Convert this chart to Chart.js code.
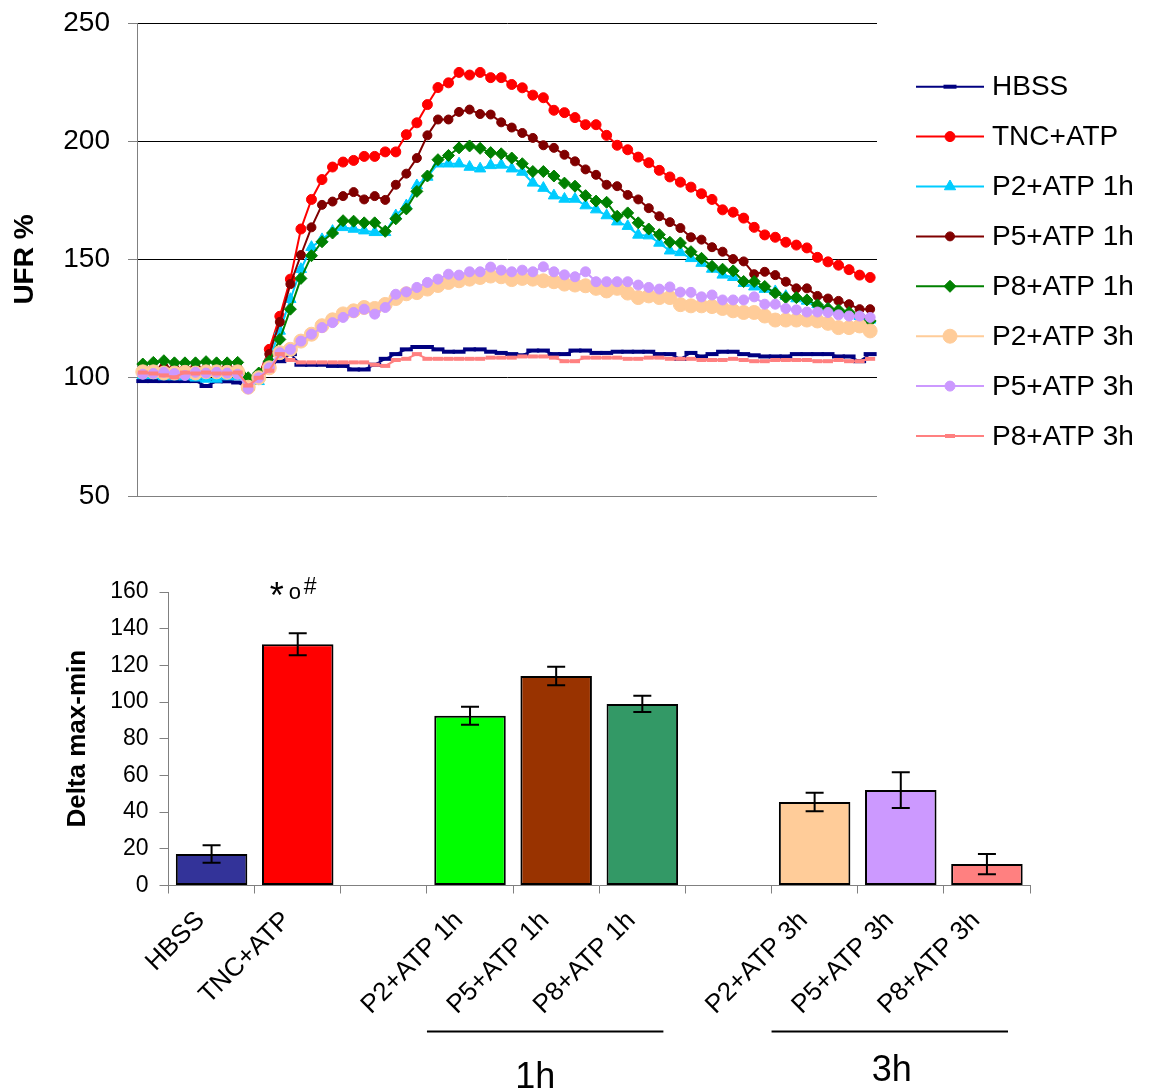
<!DOCTYPE html>
<html>
<head>
<meta charset="utf-8">
<script src="https://cdn.jsdelivr.net/npm/chart.js@4.4.0/dist/chart.umd.min.js"></script>
<style>
  html, body { margin: 0; padding: 0; background: #fff; }
  #page { position: relative; width: 1152px; height: 1092px; overflow: hidden; background: #fff; }
  canvas { position: absolute; left: 0; }
  #lineChart { top: 0; }
  #barChart { top: 560px; }
</style>
</head>
<body>
<div id="page">
  <canvas id="lineChart" width="1152" height="530"></canvas>
  <canvas id="barChart" width="1152" height="532"></canvas>
</div>
<script>
// ---- top chart: UFR % over time, one value per reading ----
const seriesNames = ['HBSS', 'TNC+ATP', 'P2+ATP 1h', 'P5+ATP 1h', 'P8+ATP 1h', 'P2+ATP 3h', 'P5+ATP 3h', 'P8+ATP 3h'];

const hbss = [
  98.6, 98.6, 98.6, 98.6, 98.6, 98.6, 96.5, 98.5, 98.5, 98,
  95.5, 101, 106, 107, 110, 105.5, 105.5, 105.5, 105, 105,
  103.5, 103.5, 105.5, 108, 110, 112, 113, 113, 112, 111,
  111, 112, 112, 111, 110.5, 110, 109.5, 111.5, 111.5, 110,
  110, 111.5, 111.5, 110.5, 110.5, 111, 111, 111, 111, 110,
  110, 108, 110.5, 109, 110, 111, 111, 110, 109.5, 109,
  109, 109, 110, 110, 110, 110, 109, 109, 107, 110
];
const tncAtp = [
  103, 103, 102.5, 103, 102.5, 103, 102.5, 103, 103, 102.5,
  99, 101, 112, 126, 141.7, 162.9, 175.4, 183.8, 189.1, 191.2,
  191.9, 193.6, 193.6, 195.5, 195.5, 202.8, 207.8, 215.5, 222.7, 224.7,
  229.1, 228, 229.1, 226.9, 226.9, 224, 222.6, 219.5, 218.4, 213.1,
  212.1, 210, 207, 207, 202.5, 198.3, 196.4, 193.3, 190.9, 187.7,
  184.9, 182.7, 180.6, 177.8, 175.4, 171, 170, 167.5, 163.6, 160.4,
  159.4, 157.3, 156.1, 154.9, 150.9, 149, 147.6, 145.7, 143.4, 142.4
];
const p2Atp1h = [
  101, 101, 100.5, 100.5, 100.5, 100, 99.5, 99.5, 100.5, 100.5,
  99, 98.5, 108, 119.8, 133.2, 145.9, 155.2, 158.5, 162, 163.6,
  162.9, 162.2, 161.5, 161.5, 168.6, 172.8, 181.3, 184.9, 190.5, 190.5,
  190.5, 189.1, 188.4, 189.8, 190, 188.4, 187, 182.4, 180.2, 177,
  175.6, 175.6, 172.8, 171.1, 168.6, 166, 164.1, 160.4, 160.1, 157,
  153.7, 153, 150.5, 148.5, 146, 143.5, 142.5, 140, 138.5, 137.5,
  136.5, 134.5, 133.5, 132.5, 131, 129.5, 128.5, 127.5, 126, 124.5
];
const p5Atp1h = [
  104, 104, 104.5, 104, 104, 104.5, 104, 104, 104.5, 104,
  99, 101.5, 110, 123.6, 139.6, 151.9, 163.6, 173.1, 174.5, 176.8,
  178.5, 175.4, 176.8, 175.2, 181.6, 186.3, 192.9, 202.5, 209.2, 209.2,
  212.4, 213.4, 211.5, 211.3, 208, 205.8, 203.5, 201.4, 198.3, 197.2,
  194.3, 191.5, 188.1, 185.8, 181.6, 181, 177.3, 175.4, 171.7, 168.3,
  165.8, 163.3, 159.4, 158.4, 155.2, 153.3, 150.2, 149.2, 143.8, 144.8,
  143.4, 140.6, 137.8, 137.8, 134.6, 133.5, 132.5, 131.1, 129, 129
];
const p8Atp1h = [
  105.8, 106.5, 107.2, 106.3, 106.3, 106.3, 106.8, 106.3, 106.3, 106.5,
  100, 102, 107, 116.2, 129, 142, 151.6, 157.5, 161.2, 166.4,
  166.2, 165.5, 165.5, 161.9, 167.2, 171.4, 178.8, 185.3, 192.2, 194,
  197.2, 198, 197, 195.2, 194.7, 192.9, 190.5, 187.2, 187.2, 185.3,
  182.3, 181, 177, 174.7, 174.2, 168.3, 169.7, 165.5, 162.9, 160.5,
  157.3, 157, 153.3, 150.5, 147.1, 145.9, 145.2, 140.7, 140.7, 138.6,
  135.8, 133.9, 133.9, 132.9, 130.8, 129.3, 128.6, 127.6, 126.1, 124
];
const p2Atp3h = [
  102.5, 102.5, 102, 102, 102.3, 102, 102.5, 102.5, 102.3, 102.5,
  96, 100, 104.2, 110.6, 112, 115.5, 118.4, 122, 124.5, 127,
  128.3, 129.7, 129.3, 131, 133.5, 135.5, 136, 137.5, 139, 140.3,
  141, 141.7, 142.4, 143, 142.7, 141.5, 142, 141.7, 141, 140.6,
  139.6, 139.2, 138.9, 137.8, 136.7, 137.8, 135.8, 133.9, 134.6, 133.9,
  133.9, 130.9, 130.4, 130.4, 130.1, 129.3, 128.3, 127.6, 127.6, 126.1,
  124.4, 124.4, 124.4, 124.4, 124, 123, 121.2, 121.2, 121.9, 119.8
];
const p5Atp3h = [
  101.5, 101.8, 102.3, 101.8, 101, 102.3, 102, 102.3, 102, 101.5,
  95.3, 100, 104.2, 110.6, 112, 115.5, 118.4, 121.2, 123.3, 125.5,
  127.6, 129, 126.9, 129.7, 135.3, 136.3, 138.2, 140.3, 141.7, 143.8,
  143.4, 144.8, 144.8, 146.8, 145.5, 144.8, 145.5, 144.8, 146.9, 144.8,
  143.5, 142.7, 144.8, 140.6, 140.6, 140.6, 140.6, 139.2, 138.2, 137.5,
  138.4, 136.2, 136.1, 134.2, 135, 132.9, 132.9, 132.9, 134.2, 131.1,
  131.1, 129.3, 128.7, 127.8, 127.8, 127.6, 126.6, 126.1, 126.1, 125.5
];
const p8Atp3h = [
  102.2, 101.8, 101, 100.2, 102.2, 101.8, 102.2, 101.8, 101.8, 102.2,
  96.7, 100, 103, 110, 107.5, 106.5, 106.5, 106.5, 106.5, 106.5,
  106.5, 106.5, 105.5, 105, 107.5, 108, 110, 108, 108, 108,
  108, 108, 108, 108.5, 108.5, 108.5, 109, 109, 109, 108.5,
  107, 107, 108.5, 108.5, 108.5, 108.5, 108, 108, 108.5, 108.5,
  108, 108, 108, 107.5, 107.5, 107.5, 108, 107.5, 107, 107,
  107.5, 107.5, 107.5, 107.5, 107, 107, 107.5, 107, 107, 108
];
const ufrTicks = [50, 100, 150, 200, 250];

// ---- bottom chart: delta max-min per condition ----
const barLabels = ['HBSS', 'TNC+ATP', '', 'P2+ATP 1h', 'P5+ATP 1h', 'P8+ATP 1h', '', 'P2+ATP 3h', 'P5+ATP 3h', 'P8+ATP 3h'];
const barValues = [17.2, 131.5, null, 92.5, 114.2, 99, null, 45.5, 52, 11.7];
const barErrors = [4.8, 6, null, 4.9, 5, 4.4, null, 5, 9.8, 5.5];
const groupNames = ['1h', '3h'];
const groupFirst = [3, 7];
const groupLast = [5, 9];

const FONT = 'Arial, "Liberation Sans", Helvetica, sans-serif';
Chart.defaults.font.family = FONT;
Chart.defaults.color = '#000';

const lineStyles = [
  { color: '#000080', point: 'line', radius: 6.5, pw: 4 },
  { color: '#FF0000', point: 'circle', radius: 5, pw: 1 },
  { color: '#00CCFF', point: 'triangle', radius: 6.5, pw: 1 },
  { color: '#800000', point: 'circle', radius: 4.5, pw: 1 },
  { color: '#008000', point: 'rectRot', radius: 6, pw: 1 },
  { color: '#FFCC99', point: 'circle', radius: 7, pw: 1 },
  { color: '#CC99FF', point: 'circle', radius: 5, pw: 1 },
  { color: '#FF8080', point: 'line', radius: 5, pw: 4 }
];
const seriesData = [hbss, tncAtp, p2Atp1h, p5Atp1h, p8Atp1h, p2Atp3h, p5Atp3h, p8Atp3h];

const datasets = seriesData.map((values, i) => {
  const st = lineStyles[i];
  return {
    label: seriesNames[i],
    data: values.map((v, k) => ({ x: k, y: v })),
    borderColor: st.color,
    backgroundColor: st.color,
    borderWidth: 2,
    pointStyle: st.point,
    pointRadius: st.radius,
    pointBorderWidth: st.pw,
    pointBackgroundColor: st.color,
    pointBorderColor: st.color,
    tension: 0,
    clip: false,
    order: seriesData.length - i   // later series drawn on top
  };
});

// legend drawn like the spreadsheet one: line with the marker in the middle
const sideLegend = {
  id: 'sideLegend',
  afterDraw(chart) {
    const ctx = chart.ctx;
    const left = chart.chartArea.right + 39;
    ctx.save();
    seriesNames.forEach((name, i) => {
      const st = lineStyles[i];
      const y = 86.7 + i * 49.9;
      ctx.strokeStyle = st.color;
      ctx.fillStyle = st.color;
      ctx.lineWidth = 2;
      ctx.beginPath();
      ctx.moveTo(left, y);
      ctx.lineTo(left + 68, y);
      ctx.stroke();
      ctx.lineWidth = st.pw;
      Chart.helpers.drawPoint(ctx, { pointStyle: st.point, radius: st.radius, borderWidth: st.pw, rotation: 0 }, left + 34, y);
      ctx.fillStyle = '#000';
      ctx.font = '28px ' + FONT;
      ctx.textAlign = 'left';
      ctx.textBaseline = 'middle';
      ctx.fillText(name, left + 76, y + 1);
    });
    ctx.restore();
  }
};

new Chart(document.getElementById('lineChart'), {
  type: 'line',
  data: { datasets: datasets },
  options: {
    responsive: false,
    animation: false,
    events: [],
    layout: { padding: { top: 23, right: 275, bottom: 34, left: 0 } },
    plugins: { legend: { display: false }, tooltip: { enabled: false } },
    scales: {
      x: { type: 'linear', display: false, min: -0.55, max: 69.65 },
      y: {
        min: ufrTicks[0],
        max: ufrTicks[ufrTicks.length - 1],
        afterBuildTicks: s => { s.ticks = ufrTicks.map(v => ({ value: v })); },
        ticks: { font: { size: 28 }, color: '#000', padding: 18 },
        grid: {
          color: c => (c.tick && c.tick.value === ufrTicks[0]) ? '#808080' : '#000',
          tickColor: '#808080',
          tickLength: 9,
          lineWidth: 1
        },
        border: { color: '#808080', width: 1 },
        title: { display: true, text: 'UFR %', color: '#000', font: { size: 28, weight: 'bold' }, padding: { top: 8, bottom: 0 } },
        afterFit: s => { s.width = 137; s.paddingTop = 0; s.paddingBottom = 0; }
      }
    }
  },
  plugins: [sideLegend]
});

// error bars, significance marks and the 1h / 3h group captions
const captionDrop = [0, -7];
const barExtras = {
  id: 'barExtras',
  afterDatasetsDraw(chart) {
    const { ctx, scales: { x, y } } = chart;
    ctx.save();
    ctx.strokeStyle = '#000';
    ctx.lineWidth = 2;
    barValues.forEach((v, i) => {
      if (v == null) return;
      const cx = x.getPixelForValue(i);
      const top = y.getPixelForValue(v + barErrors[i]);
      const bot = y.getPixelForValue(v - barErrors[i]);
      ctx.beginPath();
      ctx.moveTo(cx, top); ctx.lineTo(cx, bot);
      ctx.moveTo(cx - 9, top); ctx.lineTo(cx + 9, top);
      ctx.moveTo(cx - 9, bot); ctx.lineTo(cx + 9, bot);
      ctx.stroke();
    });

    // *o# above TNC+ATP
    const tx = x.getPixelForValue(1);
    const ty = y.getPixelForValue(160);
    ctx.fillStyle = '#000';
    ctx.textAlign = 'left';
    ctx.textBaseline = 'alphabetic';
    ctx.font = '36px ' + FONT;
    ctx.fillText('*', tx - 28, ty + 16);
    ctx.font = '22px ' + FONT;
    ctx.fillText('o', tx - 9, ty + 7);
    ctx.font = '23px ' + FONT;
    ctx.fillText('#', tx + 6, ty + 2);

    // group lines and captions
    const catW = x.getPixelForValue(1) - x.getPixelForValue(0);
    groupNames.forEach((g, k) => {
      const x1 = x.getPixelForValue(groupFirst[k]) - catW / 2;
      const x2 = x.getPixelForValue(groupLast[k]) + catW / 2 - 22;
      const ly = y.bottom + 146;
      ctx.beginPath();
      ctx.moveTo(x1, ly); ctx.lineTo(x2, ly);
      ctx.stroke();
      ctx.font = '36px ' + FONT;
      ctx.textAlign = 'center';
      ctx.fillText(g, (x1 + x2) / 2 - 10 + k * 12, y.bottom + 202 + captionDrop[k]);
    });
    ctx.restore();
  }
};

new Chart(document.getElementById('barChart'), {
  type: 'bar',
  data: {
    labels: barLabels,
    datasets: [{
      data: barValues,
      backgroundColor: ['#333399', '#FF0000', '#fff', '#00FF00', '#993300', '#339966', '#fff', '#FFCC99', '#CC99FF', '#FF8080'],
      borderColor: '#000',
      borderWidth: 2,
      borderSkipped: false,
      barPercentage: 0.83,
      categoryPercentage: 1
    }]
  },
  options: {
    responsive: false,
    animation: false,
    events: [],
    layout: { padding: { top: 32, right: 122, bottom: 0, left: 0 } },
    plugins: { legend: { display: false }, tooltip: { enabled: false } },
    scales: {
      x: {
        grid: { display: true, drawOnChartArea: false, drawTicks: true, tickLength: 8, color: '#808080', offset: true },
        border: { color: '#808080', width: 1 },
        ticks: { font: { size: 26 }, color: '#000', minRotation: 45, maxRotation: 45, autoSkip: false, padding: 12, labelOffset: -11 },
        afterFit: s => { s.height = 206.5; }
      },
      y: {
        min: 0,
        max: 160,
        ticks: { stepSize: 20, font: { size: 23 }, color: '#000', padding: 11 },
        grid: { drawOnChartArea: false, tickLength: 9, color: '#808080' },
        border: { color: '#808080', width: 1 },
        title: { display: true, text: 'Delta max-min', color: '#000', font: { size: 26, weight: 'bold' }, padding: { top: 62, bottom: 0 } },
        afterFit: s => { s.width = 168.5; }
      }
    }
  },
  plugins: [barExtras]
});
</script>
</body>
</html>
